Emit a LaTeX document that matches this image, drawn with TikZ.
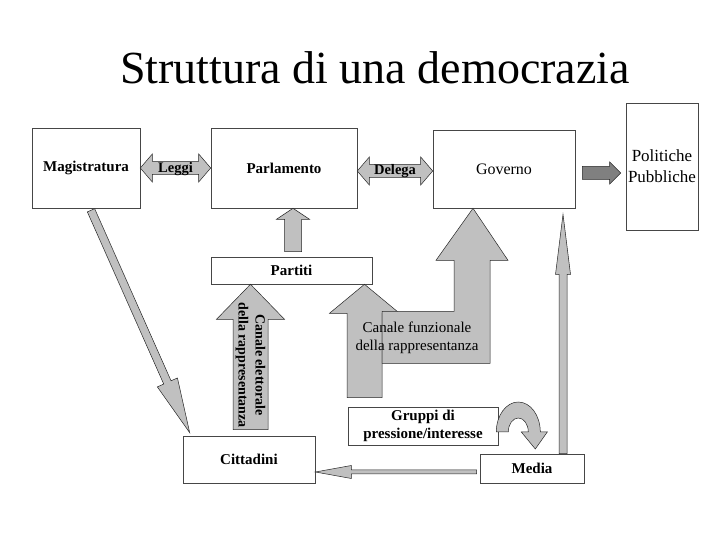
\documentclass[tikz,border=0pt]{standalone}
\usepackage{fontspec}
\setmainfont{Liberation Serif}
\usetikzlibrary{calc}
\definecolor{grigiofreccia}{RGB}{192,192,192}
\definecolor{grigioscuro}{RGB}{128,128,128}
\definecolor{bordo}{RGB}{70,70,70}
\tikzset{
	casella/.style={draw=bordo, line width=0.6pt, fill=white, inner sep=1pt, align=center, font=\fontsize{15}{18}\selectfont\bfseries},
	etichetta/.style={inner sep=0pt, align=center, font=\fontsize{14.5}{17}\selectfont\bfseries},
	blocco/.style={draw=black!85, line width=0.5pt, fill=grigiofreccia, line join=miter},
}
%freccia piena: [stile]{da}{a}{asta}{punta}{lunghezza punta}
\newcommand{\freccia}[6][]{
	\path (#2) coordinate (fr-a) (#3) coordinate (fr-b);
	\path ($(fr-b)!#6!(fr-a)$) coordinate (fr-p);
	\draw[blocco,#1] ($(fr-a)!#4!90:(fr-b)$) -- ($(fr-p)!#4!90:(fr-b)$) -- ($(fr-p)!#5!90:(fr-b)$) -- (fr-b)
		-- ($(fr-p)!#5!-90:(fr-b)$) -- ($(fr-p)!#4!-90:(fr-b)$) -- ($(fr-a)!#4!-90:(fr-b)$) -- cycle;
}
%freccia doppia
\newcommand{\frecciadoppia}[6][]{
	\path (#2) coordinate (fd-a) (#3) coordinate (fd-b);
	\path ($(fd-a)!#6!(fd-b)$) coordinate (fd-p) ($(fd-b)!#6!(fd-a)$) coordinate (fd-q);
	\draw[blocco,#1] (fd-a) -- ($(fd-p)!#5!90:(fd-b)$) -- ($(fd-p)!#4!90:(fd-b)$) -- ($(fd-q)!#4!90:(fd-b)$) -- ($(fd-q)!#5!90:(fd-b)$) -- (fd-b)
		-- ($(fd-q)!#5!-90:(fd-b)$) -- ($(fd-q)!#4!-90:(fd-b)$) -- ($(fd-p)!#4!-90:(fd-b)$) -- ($(fd-p)!#5!-90:(fd-b)$) -- cycle;
}
\begin{document}
\begin{tikzpicture}[x=1pt, y=1pt]
	\useasboundingbox (0,0) rectangle (720,540);
	%titolo
	\node (titolo) at (375,472) {\fontsize{46}{50}\selectfont Struttura di una democrazia};
	%caselle
	\node[casella, minimum width=108, minimum height=80] (mag) at (86,372) {Magistratura};
	\node[casella, minimum width=146, minimum height=80] (parl) at (284,372) {Parlamento};
	\node[casella, minimum width=142, minimum height=78, font=\fontsize{16}{18}\selectfont] (gov) at (504,371) {Governo};
	\node[casella, minimum width=72, minimum height=127, inner sep=0pt, font=\fontsize{17}{21}\selectfont] (pol) at (662,373.5) {Politiche\\Pubbliche};
	\node[casella, minimum width=161, minimum height=27] (part) at (291.5,269.5) {Partiti};
	\node[casella, minimum width=150, minimum height=38] (grup) at (423,114) {Gruppi di\\pressione/interesse};
	\node[casella, minimum width=104, minimum height=29] (media) at (532,71.5) {Media};
	\node[casella, minimum width=132, minimum height=47] (citt) at (249,80.5) {Cittadini};
	%frecce in alto
	\frecciadoppia{mag.east}{parl.west}{6.5pt}{14pt}{12pt}
	\node[etichetta] (leggi) at ($(mag.east)!0.5!(parl.west)+(0,-1)$) {Leggi};
	\frecciadoppia{$(parl.east)+(0,-3)$}{$(parl.east -| gov.west)+(0,-3)$}{6.5pt}{14pt}{12pt}
	\node[etichetta] (delega) at ($(parl.east)!0.5!(parl.east -| gov.west)+(0,-3)$) {Delega};
	\freccia[fill=grigioscuro]{$(gov.east)+(7,-4)$}{$(pol.west)+(-5,-6.5)$}{6.5pt}{11pt}{11pt}
	\coordinate (pp) at ($(part.north)+(1.5,5)$);
	\freccia{pp}{pp |- parl.south}{8.5pt}{16.5pt}{11pt}
	%canale elettorale
	\coordinate (el) at ($(citt.north)+(1.5,6)$);
	\freccia{el}{el |- part.south}{17.5pt}{34pt}{35pt}
	\node[etichetta, font=\fontsize{14}{17}\selectfont\bfseries, rotate=-90] (elettorale) at ($(el)!0.5!(el |- part.south)+(0,-8)$) {Canale elettorale\\della rappresentanza};
	%canale funzionale
	\coordinate (fu) at ($(grup.north)+(-58.5,9)$);
	\freccia{fu}{fu |- part.south}{17.5pt}{35pt}{29pt}
	\draw[blocco] ($(gov.south)+(-31,0)$) -- ++(35,-52) -- ++(-18,0) -- ++(0,-103) -- ++(-108,0)
		-- ++(0,52) -- ++(72,0) -- ++(0,51) -- ++(-18,0) -- cycle;
	\node[etichetta, font=\fontsize{15}{18}\selectfont] (funzionale) at (417,202) {Canale funzionale\\della rappresentanza};
	%media e cittadini
	\coordinate (me) at ($(media.north)+(31,0)$);
	\freccia{me}{$(me |- gov.south)+(0,-6)$}{4pt}{7.5pt}{60pt}
	\coordinate (mc) at ($(media.west)+(-3,-3.5)$);
	\freccia{mc}{mc -| citt.east}{2pt}{6.5pt}{36pt}
	\freccia{$(mag.south)+(5,-2)$}{$(citt.north west)+(7,3)$}{4pt}{11pt}{55pt}
	%freccia curva
	\coordinate (cu) at ($(grup.east)+(-2,-6)$);
	\draw[blocco] (cu) arc[start angle=180, end angle=0, x radius=22, y radius=30] -- ++(7,0) -- ++(-12,-17)
		-- ++(-14,17) -- ++(7,0) arc[start angle=0, end angle=180, x radius=10, y radius=14] -- cycle;
\end{tikzpicture}
\end{document}
